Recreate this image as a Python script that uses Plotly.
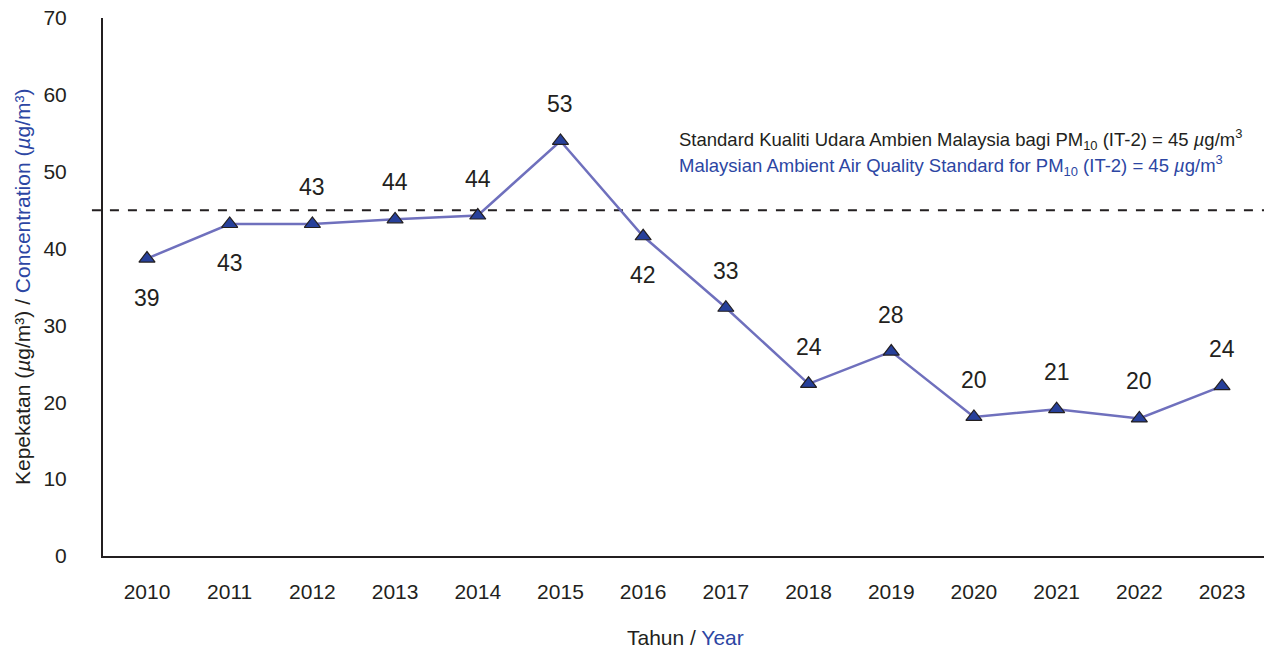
import plotly.graph_objects as go

INK = "#231f20"
BLUE = "#2c46a3"
LINE = "#6f70bd"
FONT = "Arial, Liberation Sans, sans-serif"

years = ["2010", "2011", "2012", "2013", "2014", "2015", "2016",
         "2017", "2018", "2019", "2020", "2021", "2022", "2023"]
pm10 = [38.7, 43.2, 43.2, 43.8, 44.3, 54.0, 41.6, 32.3, 22.4, 26.6, 18.1, 19.1, 17.9, 22.1]
pm10_labels = ["39", "43", "43", "44", "44", "53", "42", "33", "24", "28", "20", "21", "20", "24"]
label_below = [True, True, False, False, False, False, True,
               False, False, False, False, False, False, False]
standard = 45

x = list(range(len(years)))

fig = go.Figure()

fig.add_shape(
    type="line", xref="paper", yref="y", x0=-0.0095, x1=1, y0=standard, y1=standard,
    line=dict(color=INK, width=2, dash="dash"), layer="below",
)

fig.add_scatter(
    x=x, y=pm10, mode="lines+markers",
    line=dict(color=LINE, width=2.5),
    marker=dict(symbol="triangle-up", size=14, color="#27409a", line=dict(color=INK, width=1.2)),
    showlegend=False, hoverinfo="skip",
)

for xi, yi, lab, below in zip(x, pm10, pm10_labels, label_below):
    fig.add_annotation(
        x=xi, y=yi, text=lab, showarrow=False, yshift=-39 if below else 37,
        font=dict(family=FONT, size=23, color=INK),
    )

fig.add_annotation(
    xref="paper", yref="paper", x=0.493, y=(556 - 140) / 537, xanchor="left", yanchor="middle",
    text="Standard Kualiti Udara Ambien Malaysia bagi PM<sub>10</sub> (IT-2) = 45 <i>µ</i>g/m<sup>3</sup>",
    showarrow=False, font=dict(family=FONT, size=18.5, color=INK),
)
fig.add_annotation(
    xref="paper", yref="paper", x=0.493, y=(556 - 166) / 537, xanchor="left", yanchor="middle",
    text="Malaysian Ambient Air Quality Standard for PM<sub>10</sub> (IT-2) = 45 <i>µ</i>g/m<sup>3</sup>",
    showarrow=False, font=dict(family=FONT, size=18.5, color=BLUE),
)

fig.add_annotation(
    xref="paper", yref="paper", x=(22 - 103) / 1165, y=0.5, xanchor="center", yanchor="middle",
    textangle=-90, showarrow=False, font=dict(family=FONT, size=21, color=INK),
    text="Kepekatan (<i>µ</i>g/m³) / <span style='color:%s'>Concentration (<i>µ</i>g/m³)</span>" % BLUE,
)
fig.add_annotation(
    xref="paper", yref="paper", x=0.5, y=-(637 - 556) / 537, xanchor="center", yanchor="middle",
    showarrow=False, font=dict(family=FONT, size=21, color=INK),
    text="Tahun / <span style='color:%s'>Year</span>" % BLUE,
)

# page body adds an 8px margin, so the figure is a bit smaller than the window
fig.update_layout(
    width=1264, height=645,
    paper_bgcolor="white", plot_bgcolor="white",
    margin=dict(l=95, r=4, t=10, b=97),
    xaxis=dict(
        tickvals=x, ticktext=years, range=[-0.532, 13.556], automargin=False,
        showgrid=False, zeroline=False, showline=True, linecolor=INK, linewidth=2,
        ticks="", ticklabelstandoff=16, tickfont=dict(family=FONT, size=21, color=INK),
    ),
    yaxis=dict(
        range=[0, 70], dtick=10, showgrid=False, zeroline=False, automargin=False,
        showline=True, linecolor=INK, linewidth=2, ticklabeloverflow="allow",
        ticks="", ticklabelstandoff=30, tickfont=dict(family=FONT, size=21, color=INK),
    ),
)

fig.write_html("out.html")
